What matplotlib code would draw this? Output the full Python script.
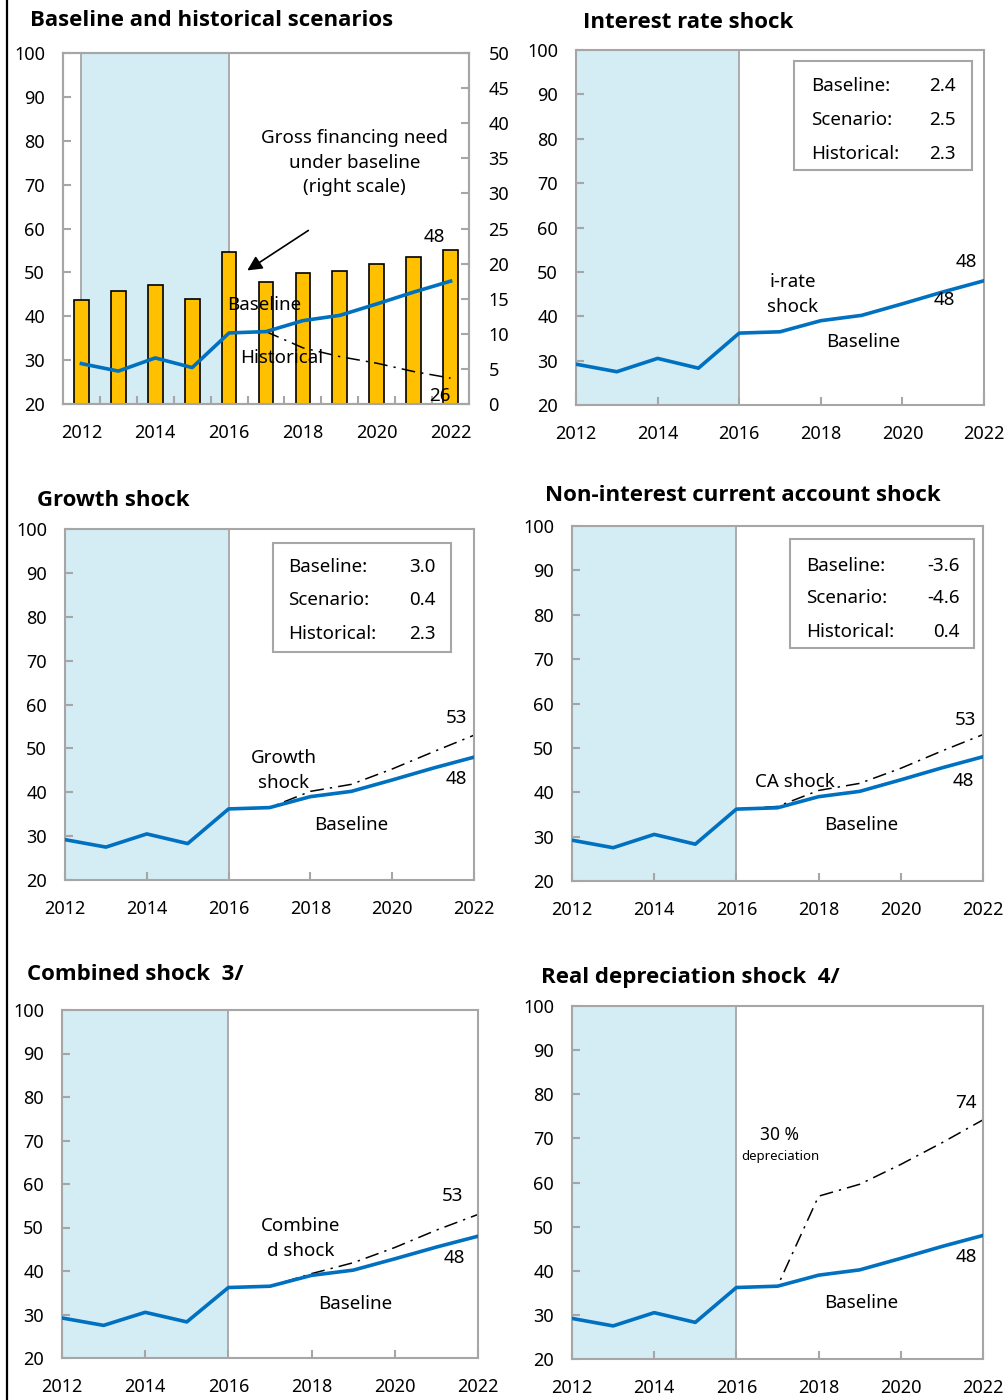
"""
Debt sustainability: baseline plus five stress scenarios, 3x2 panel layout.
"""
import matplotlib
matplotlib.use("Agg")
import matplotlib.pyplot as plt
from matplotlib.lines import Line2D
from matplotlib.patches import Rectangle

plt.rcParams['font.family'] = ['Noto Sans', 'DejaVu Sans']

# ---- data ----
years = list(range(2012, 2023))
baseline = [29.2, 27.5, 30.5, 28.3, 36.2, 36.5, 39.0, 40.2, 42.8, 45.5, 48.0]
gross_financing = [14.8, 16.1, 16.9, 15.0, 21.7, 17.4, 18.7, 18.9, 19.9, 21.0, 22.0]

hist_years = list(range(2017, 2023))
historical = [36.5, 32.8, 30.8, 29.3, 27.4, 25.9]

shock_years = list(range(2016, 2023))
irate_shock = [36.2, 36.5, 39.0, 40.2, 42.8, 45.5, 48.0]
growth_shock = [36.2, 36.5, 40.2, 41.8, 45.3, 49.2, 53.0]
ca_shock = [36.2, 36.8, 40.4, 42.0, 45.4, 49.3, 53.0]
combined_shock = [36.2, 36.5, 39.4, 41.9, 45.4, 49.4, 53.0]
depreciation_shock = [36.2, 36.5, 56.9, 59.6, 64.1, 69.0, 74.2]

box_labels = ["Baseline:", "Scenario:", "Historical:"]
irate_box = ["2.4", "2.5", "2.3"]
growth_box = ["3.0", "0.4", "2.3"]
ca_box = ["-3.6", "-4.6", "0.4"]

# ---- style ----
W, H = 1006, 1400
GRAY = "#A6A6A6"
SHADE = "#D4ECF4"
BLUE = "#0070C0"
GOLD = "#FFC000"
DASHDOT = (0, (9, 4, 1.5, 4))
FS = 13.5      # annotation text
TICK_FS = 13   # tick labels
LS = 1.5       # line spacing of two-line labels
TITLE_FONT = ['Open Sans', 'Lato', 'Liberation Sans', 'DejaVu Sans']

fig = plt.figure(figsize=(W / 100, H / 100), dpi=100)


def add_axes_px(x0, y0, x1, y1):
    return fig.add_axes([x0 / W, 1 - y1 / H, (x1 - x0) / W, (y1 - y0) / H])


def title_px(x, y, s):
    fig.text(x / W, 1 - y / H, s, fontsize=16, fontweight="bold",
             family=TITLE_FONT, ha="left", va="center")


def style_axes(ax):
    for s in ax.spines.values():
        s.set_color(GRAY)
        s.set_linewidth(1.5)
    ax.tick_params(axis="both", direction="in", length=6, width=1.5,
                   color=GRAY, labelsize=TICK_FS)
    ax.tick_params(axis="y", pad=13)
    ax.tick_params(axis="x", pad=14.5)
    ax.set_ylim(20, 100)
    ax.set_yticks(range(20, 101, 10))


def shock_panel(rect, shock, title, title_xy):
    ax = add_axes_px(*rect)
    style_axes(ax)
    ax.set_xlim(2012, 2022)
    ax.set_xticks(range(2012, 2023, 2))
    ax.axvspan(2012, 2016, color=SHADE, zorder=0, lw=0)
    ax.axvline(2016, color=GRAY, lw=1.3, zorder=1)
    ax.plot(shock_years, shock, color="black", lw=1.1, linestyle=DASHDOT, zorder=2)
    ax.plot(years, baseline, color=BLUE, lw=2.6, zorder=3)
    title_px(*title_xy, title)
    return ax


def info_box(ax, x0, x1, y0, y1, lab_x, val_x, rows_y, values):
    ax.add_patch(Rectangle((x0, y0), x1 - x0, y1 - y0, transform=ax.transAxes,
                           facecolor="white", edgecolor=GRAY, lw=1.5, zorder=4))
    for lab, val, y in zip(box_labels, values, rows_y):
        ax.text(lab_x, y, lab, transform=ax.transAxes, fontsize=FS,
                ha="left", va="center", zorder=5)
        ax.text(val_x, y, val, transform=ax.transAxes, fontsize=FS,
                ha="right", va="center", zorder=5)


# ---- panel 1: baseline and historical ----
ax1 = add_axes_px(63, 53, 469, 404)
ax1r = ax1.twinx()
style_axes(ax1)
for s in ax1r.spines.values():
    s.set_color(GRAY)
    s.set_linewidth(1.5)
ax1r.tick_params(axis="y", direction="in", length=6, width=1.5, color=GRAY,
                 labelsize=TICK_FS, pad=14)
ax1r.set_ylim(0, 50)
ax1r.set_yticks(range(0, 51, 5))
ax1.set_zorder(ax1r.get_zorder() + 1)
ax1.patch.set_visible(False)

ax1.set_xlim(2011.5, 2022.5)
ax1.set_xticks(range(2012, 2023, 2))
ax1.set_xticks([y + 0.5 for y in years[:-1]], minor=True)
ax1.tick_params(axis="x", which="major", length=0)
ax1.tick_params(axis="x", which="minor", direction="in", length=6, width=1.5,
                color=GRAY)

ax1r.axvspan(2012, 2016, color=SHADE, zorder=0, lw=0)
ax1r.axvline(2012, color=GRAY, lw=1.3, zorder=1)
ax1r.axvline(2016, color=GRAY, lw=1.3, zorder=1)
ax1r.bar(years, gross_financing, width=0.4, color=GOLD, edgecolor="black",
         lw=1.2, zorder=2)

ax1.plot(hist_years, historical, color="black", lw=1.1, linestyle=DASHDOT, zorder=2)
ax1.plot(years, baseline, color=BLUE, lw=2.6, zorder=3)

ax1.text(2019.4, 75.0, "Gross financing need\nunder baseline\n(right scale)",
         fontsize=FS, ha="center", va="center", linespacing=1.45)
ax1.annotate("", xy=(2016.43, 50.1), xytext=(2018.21, 59.9),
             arrowprops=dict(arrowstyle="-|>", color="black", lw=1.2,
                             mutation_scale=22))
ax1.text(2015.95, 42.5, "Baseline", fontsize=FS, ha="left", va="center", zorder=4)
ax1.text(2016.3, 30.5, "Historical", fontsize=FS, ha="left", va="center", zorder=4)
ax1.text(2021.55, 58.0, "48", fontsize=FS, ha="center", va="center")
ax1.text(2021.7, 21.8, "26", fontsize=FS, ha="center", va="center", zorder=4)
title_px(30, 20, "Baseline and historical scenarios")

# ---- panel 2: interest rate shock ----
ax2 = shock_panel((576, 50, 984, 405), irate_shock, "Interest rate shock", (583, 22))
info_box(ax2, 0.534, 0.971, 0.662, 0.969, 0.576, 0.931,
         [0.899, 0.803, 0.707], irate_box)
ax2.text(2017.32, 44.9, "i-rate\nshock", fontsize=FS, ha="center", va="center",
         linespacing=LS)
ax2.text(2019.03, 34.2, "Baseline", fontsize=FS, ha="center", va="center")
ax2.text(2021.58, 52.2, "48", fontsize=FS, ha="center", va="center")
ax2.text(2021.02, 43.7, "48", fontsize=FS, ha="center", va="center")

# ---- panel 3: growth shock ----
ax3 = shock_panel((65, 529, 474, 880), growth_shock, "Growth shock", (37, 500))
info_box(ax3, 0.509, 0.944, 0.650, 0.960, 0.545, 0.905,
         [0.892, 0.798, 0.701], growth_box)
ax3.text(2017.34, 44.9, "Growth\nshock", fontsize=FS, ha="center", va="center",
         linespacing=LS)
ax3.text(2019.0, 32.5, "Baseline", fontsize=FS, ha="center", va="center")
ax3.text(2021.56, 56.9, "53", fontsize=FS, ha="center", va="center")
ax3.text(2021.56, 43.0, "48", fontsize=FS, ha="center", va="center")

# ---- panel 4: non-interest current account shock ----
ax4 = shock_panel((572, 526, 983, 881), ca_shock,
                  "Non-interest current account shock", (545, 495))
info_box(ax4, 0.530, 0.978, 0.656, 0.963, 0.569, 0.944,
         [0.887, 0.797, 0.701], ca_box)
ax4.text(2017.43, 42.3, "CA shock", fontsize=FS, ha="center", va="center")
ax4.text(2019.04, 32.6, "Baseline", fontsize=FS, ha="center", va="center")
ax4.text(2021.57, 56.3, "53", fontsize=FS, ha="center", va="center")
ax4.text(2021.52, 42.5, "48", fontsize=FS, ha="center", va="center")

# ---- panel 5: combined shock ----
ax5 = shock_panel((62, 1010, 478, 1358), combined_shock, "Combined shock  3/", (27, 975))
ax5.text(2017.74, 47.5, "Combine\nd shock", fontsize=FS, ha="center", va="center",
         linespacing=LS)
ax5.text(2019.04, 32.4, "Baseline", fontsize=FS, ha="center", va="center")
ax5.text(2021.39, 57.2, "53", fontsize=FS, ha="center", va="center")
ax5.text(2021.44, 43.0, "48", fontsize=FS, ha="center", va="center")

# ---- panel 6: real depreciation shock ----
ax6 = shock_panel((572, 1006, 983, 1359), depreciation_shock,
                  "Real depreciation shock  4/", (541, 977))
ax6.text(2017.06, 70.7, "30 %", fontsize=12.5, ha="center", va="center")
ax6.text(2017.06, 65.9, "depreciation", fontsize=9.5, ha="center", va="center")
ax6.text(2019.03, 32.6, "Baseline", fontsize=FS, ha="center", va="center")
ax6.text(2021.59, 78.1, "74", fontsize=FS, ha="center", va="center")
ax6.text(2021.59, 43.2, "48", fontsize=FS, ha="center", va="center")

# left frame line
fig.add_artist(Line2D([7 / W, 7 / W], [0, 1], color="black", lw=1.6))

plt.savefig("out.png", dpi=100)
plt.close()
